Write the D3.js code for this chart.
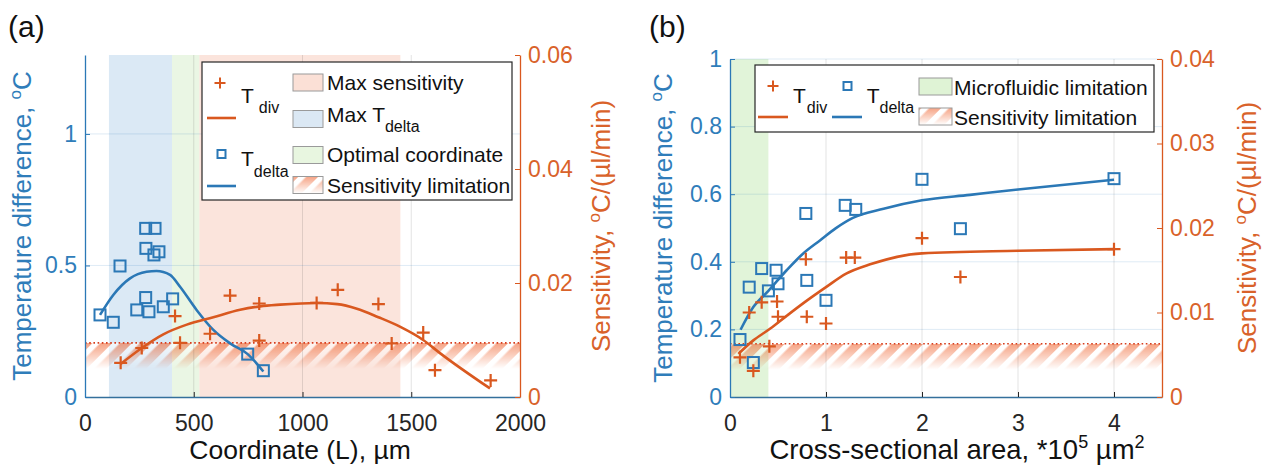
<!DOCTYPE html>
<html><head><meta charset="utf-8">
<script src="https://cdn.jsdelivr.net/npm/d3@7"></script>
<style>
body{margin:0;background:#fff;}
svg{display:block;font-family:"Liberation Sans",Arial,Helvetica,sans-serif;}
</style>
</head><body>
<svg id="chart" width="1273" height="470"></svg>
<script>
// ===================== DATA : panel (a) =====================
const aXTicks = [0, 500, 1000, 1500, 2000];
const aLeftTicks = [0, 0.5, 1];
const aRightTicks = [0, 0.02, 0.04, 0.06];
const aXDomain = [0, 2000];
const aLeftDomain = [0, 1.3];
const aRightDomain = [0, 0.06];
// T_delta measurements (left axis, °C)
const aDeltaX = [69, 130, 161, 238, 279, 294, 279, 322, 280, 317, 340, 360, 403, 748, 820];
const aDeltaY = [0.312, 0.284, 0.498, 0.331, 0.378, 0.324, 0.641, 0.641, 0.565, 0.54, 0.552, 0.343, 0.373, 0.163, 0.10];
// T_delta fitted curve
const aDeltaFitX = [69, 130, 207, 283, 329, 391, 437, 513, 590, 667, 748, 820];
const aDeltaFitY = [0.312, 0.388, 0.451, 0.476, 0.479, 0.464, 0.419, 0.331, 0.255, 0.204, 0.163, 0.097];
// T_div measurements (right axis, sensitivity)
const aDivX = [164, 261, 414, 437, 575, 667, 801, 801, 1065, 1162, 1349, 1410, 1555, 1609, 1865];
const aDivY = [0.0060, 0.0086, 0.0142, 0.0095, 0.0111, 0.0178, 0.0164, 0.0099, 0.0165, 0.0188, 0.0163, 0.0094, 0.0113, 0.0047, 0.0029];
// T_div fitted curve
const aDivFitX = [164, 261, 360, 468, 590, 713, 805, 897, 1065, 1160, 1250, 1349, 1450, 1555, 1632, 1862];
const aDivFitY = [0.0058, 0.0086, 0.0110, 0.0127, 0.0140, 0.0153, 0.0159, 0.0162, 0.0165, 0.0163, 0.0155, 0.0140, 0.0123, 0.0100, 0.0077, 0.0015];
// shaded regions
const aRegionNames = ["Max sensitivity", "Max T_delta", "Optimal coordinate"];
const aRegionStart = [525, 110, 400];
const aRegionEnd = [1450, 400, 525];
const aSensLimit = 0.0095;

// ===================== DATA : panel (b) =====================
const bXTicks = [0, 1, 2, 3, 4];
const bLeftTicks = [0, 0.2, 0.4, 0.6, 0.8, 1];
const bRightTicks = [0, 0.01, 0.02, 0.03, 0.04];
const bXDomain = [0, 4.5];
const bLeftDomain = [0, 1];
const bRightDomain = [0, 0.04];
const bDeltaX = [0.104, 0.2, 0.243, 0.33, 0.4, 0.48, 0.5, 0.8, 1.0, 0.79, 1.2, 1.31, 2.0, 2.4, 4.0];
const bDeltaY = [0.17, 0.325, 0.102, 0.38, 0.314, 0.375, 0.335, 0.345, 0.286, 0.543, 0.567, 0.555, 0.644, 0.498, 0.646];
const bDeltaFitX = [0.11, 0.243, 0.4, 0.59, 0.76, 0.94, 1.1, 1.28, 1.6, 2.0, 2.5, 3.0, 4.0];
const bDeltaFitY = [0.199, 0.266, 0.314, 0.375, 0.424, 0.464, 0.499, 0.530, 0.557, 0.582, 0.598, 0.614, 0.643];
const bDivX = [0.104, 0.2, 0.243, 0.33, 0.41, 0.49, 0.5, 0.79, 0.8, 1.0, 1.21, 1.3, 2.0, 2.4, 4.0];
const bDivY = [0.0047, 0.0100, 0.0031, 0.0112, 0.0060, 0.0113, 0.0095, 0.0163, 0.0095, 0.0087, 0.0165, 0.0165, 0.0188, 0.0142, 0.0175];
const bDivFitX = [0.087, 0.243, 0.42, 0.59, 0.8, 1.0, 1.21, 1.46, 2.0, 3.0, 4.0];
const bDivFitY = [0.0051, 0.0067, 0.0081, 0.0096, 0.0114, 0.0130, 0.0146, 0.0157, 0.0170, 0.0173, 0.0175];
const bRegionNames = ["Microfluidic limitation"];
const bRegionStart = [0];
const bRegionEnd = [0.4];
const bSensLimit = 0.0063;

// ===================== STYLE =====================
const BLUE = "#2b78b6", BLUE_TXT = "#2f7dba";
const ORANGE = "#d9581f", ORANGE_TXT = "#d9622a";
const BLACK = "#262626";
const TICK_FS = 23, LABEL_FS = 26, LEG_FS = 21;

const svg = d3.select("#chart");
svg.append("rect").attr("width", 1273).attr("height", 470).attr("fill", "#fff");
const defs = svg.append("defs");

// hatch pattern: orange with white "/" stripes
const pat = defs.append("pattern").attr("id", "hatch").attr("patternUnits", "userSpaceOnUse")
  .attr("width", 14).attr("height", 14).attr("patternTransform", "rotate(45)");
pat.append("rect").attr("width", 14).attr("height", 14).attr("fill", "#f06a38");
pat.append("rect").attr("width", 5.5).attr("height", 14).attr("fill", "#fff");
const grad = defs.append("linearGradient").attr("id", "fadeGrad").attr("x1", 0).attr("y1", 0).attr("x2", 0).attr("y2", 1);
grad.append("stop").attr("offset", 0).attr("stop-color", "#fff").attr("stop-opacity", 0.62);
grad.append("stop").attr("offset", 1).attr("stop-color", "#fff").attr("stop-opacity", 0);
let maskCount = 0;
function hatchRect(g, x, y, w, h) {
  const id = "fade" + (maskCount++);
  const m = defs.append("mask").attr("id", id).attr("maskUnits", "userSpaceOnUse")
    .attr("x", x).attr("y", y).attr("width", w).attr("height", h);
  m.append("rect").attr("x", x).attr("y", y).attr("width", w).attr("height", h).attr("fill", "url(#fadeGrad)");
  return g.append("rect").attr("x", x).attr("y", y).attr("width", w).attr("height", h)
    .attr("fill", "url(#hatch)").attr("mask", `url(#${id})`);
}

function plusPath(s) { return `M${-s},0H${s}M0,${-s}V${s}`; }

function addLabelWithSub(g, x, y, main, sub, color, fs, subFs, subDx, subDy) {
  const t = g.append("text").attr("x", x).attr("y", y).attr("fill", color).attr("font-size", fs);
  t.append("tspan").text(main);
  t.append("tspan").attr("dx", subDx).attr("dy", subDy).attr("font-size", subFs).text(sub);
  return t;
}

function drawPanel(p) {
  const g = svg.append("g");
  const x = d3.scaleLinear().domain(p.xDomain).range([p.left, p.right]);
  const yL = d3.scaleLinear().domain(p.leftDomain).range([p.bottom, p.top]);
  const yR = d3.scaleLinear().domain(p.rightDomain).range([p.bottom, p.top]);

  // shaded regions
  p.regionStart.forEach((s, i) => {
    g.append("rect").attr("x", x(s)).attr("y", p.top)
      .attr("width", x(p.regionEnd[i]) - x(s)).attr("height", p.bottom - p.top)
      .attr("fill", p.regionColors[i]);
  });
  // sensitivity limitation hatch
  const ly = yR(p.sensLimit);
  hatchRect(g, p.left, ly, p.right - p.left, 26);

  // grid
  g.append("g").selectAll("line").data(p.xTicks.filter(d => x(d) > p.left + 1 && x(d) < p.right - 1)).join("line")
    .attr("x1", d => x(d)).attr("x2", d => x(d)).attr("y1", p.top).attr("y2", p.bottom)
    .attr("stroke", "rgba(40,40,40,0.13)").attr("stroke-width", 1);
  g.append("g").selectAll("line").data(p.leftTicks.filter(d => d > 0)).join("line")
    .attr("x1", p.left).attr("x2", p.right).attr("y1", d => yL(d)).attr("y2", d => yL(d))
    .attr("stroke", "rgba(0,100,180,0.13)").attr("stroke-width", 1);

  // dotted sensitivity line
  g.append("line").attr("x1", p.left).attr("x2", p.right).attr("y1", ly).attr("y2", ly)
    .attr("stroke", "#d63c1c").attr("stroke-width", 1.7).attr("stroke-dasharray", "1.6,2.6");

  // fitted lines
  const lineL = d3.line().x(d => x(d[0])).y(d => yL(d[1])).curve(d3.curveMonotoneX);
  const lineR = d3.line().x(d => x(d[0])).y(d => yR(d[1])).curve(d3.curveMonotoneX);
  g.append("path").datum(d3.zip(p.deltaFitX, p.deltaFitY)).attr("d", lineL)
    .attr("fill", "none").attr("stroke", BLUE).attr("stroke-width", 2.6).attr("stroke-linejoin", "round");
  g.append("path").datum(d3.zip(p.divFitX, p.divFitY)).attr("d", lineR)
    .attr("fill", "none").attr("stroke", ORANGE).attr("stroke-width", 2.6).attr("stroke-linejoin", "round");

  // markers
  g.append("g").selectAll("rect").data(d3.zip(p.deltaX, p.deltaY)).join("rect")
    .attr("x", d => x(d[0]) - 5.5).attr("y", d => yL(d[1]) - 5.5).attr("width", 11).attr("height", 11)
    .attr("fill", "none").attr("stroke", BLUE).attr("stroke-width", 2);
  g.append("g").selectAll("path").data(d3.zip(p.divX, p.divY)).join("path")
    .attr("transform", d => `translate(${x(d[0])},${yR(d[1])})`).attr("d", plusPath(6.5))
    .attr("fill", "none").attr("stroke", ORANGE).attr("stroke-width", 2.2);

  // axes
  const fmt = d3.format("~g");
  const ax = g.append("g").attr("transform", `translate(0,${p.bottom})`)
    .call(d3.axisBottom(x).tickValues(p.xTicks).tickFormat(fmt).tickSize(-5).tickSizeOuter(0).tickPadding(18));
  ax.select(".domain").attr("stroke", "#34709c").attr("stroke-width", 1.3);
  ax.selectAll(".tick line").attr("stroke", BLACK);
  ax.selectAll("text").attr("fill", BLACK).attr("font-size", TICK_FS).attr("font-family", null);

  const al = g.append("g").attr("transform", `translate(${p.left},0)`)
    .call(d3.axisLeft(yL).tickValues(p.leftTicks).tickFormat(fmt).tickSize(-5).tickSizeOuter(0).tickPadding(8));
  al.select(".domain").attr("stroke", BLUE).attr("stroke-width", 1.3);
  al.selectAll(".tick line").attr("stroke", BLUE);
  al.selectAll("text").attr("fill", BLUE_TXT).attr("font-size", TICK_FS).attr("font-family", null);

  const ar = g.append("g").attr("transform", `translate(${p.right},0)`)
    .call(d3.axisRight(yR).tickValues(p.rightTicks).tickFormat(fmt).tickSize(-5).tickSizeOuter(0).tickPadding(8));
  ar.select(".domain").attr("stroke", ORANGE).attr("stroke-width", 1.3);
  ar.selectAll(".tick line").attr("stroke", ORANGE);
  ar.selectAll("text").attr("fill", ORANGE_TXT).attr("font-size", TICK_FS).attr("font-family", null);

  // axis titles
  const yl = g.append("text").attr("transform", `translate(${p.leftLabelX},${(p.top + p.bottom) / 2}) rotate(-90)`)
    .attr("text-anchor", "middle").attr("fill", BLUE_TXT).attr("font-size", LABEL_FS);
  yl.append("tspan").text("Temperature difference, ");
  yl.append("tspan").attr("dy", -10).attr("font-size", 17).text("o");
  yl.append("tspan").attr("dy", 10).text("C");

  const yr = g.append("text").attr("transform", `translate(${p.rightLabelX},${(p.top + p.bottom) / 2}) rotate(-90)`)
    .attr("text-anchor", "middle").attr("fill", ORANGE_TXT).attr("font-size", LABEL_FS);
  yr.append("tspan").text("Sensitivity, ");
  yr.append("tspan").attr("dy", -10).attr("font-size", 17).text("o");
  yr.append("tspan").attr("dy", 10).text("C/(µl/min)");

  svg.append("text").attr("x", p.letterX).attr("y", 37).attr("font-size", 30).attr("fill", "#111").text(p.letter);
  return { g, x, yL, yR };
}

// ---------- panel (a) ----------
const A = drawPanel({
  left: 85, right: 520, top: 55, bottom: 397,
  xDomain: aXDomain, leftDomain: aLeftDomain, rightDomain: aRightDomain,
  xTicks: aXTicks, leftTicks: aLeftTicks, rightTicks: aRightTicks,
  deltaX: aDeltaX, deltaY: aDeltaY, deltaFitX: aDeltaFitX, deltaFitY: aDeltaFitY,
  divX: aDivX, divY: aDivY, divFitX: aDivFitX, divFitY: aDivFitY,
  regionStart: aRegionStart, regionEnd: aRegionEnd,
  regionColors: ["#fbe4dc", "#dbe9f5", "#eaf6e4"],
  sensLimit: aSensLimit, leftLabelX: 31, rightLabelX: 610, letter: "(a)", letterX: 8
});
A.g.append("text").attr("x", 300).attr("y", 459).attr("text-anchor", "middle")
  .attr("font-size", 26.5).attr("fill", "#111").text("Coordinate (L), µm");

// legend (a)
{
  const L = A.g.append("g");
  L.append("rect").attr("x", 202).attr("y", 62).attr("width", 310).attr("height", 138)
    .attr("fill", "#fff").attr("stroke", BLACK).attr("stroke-width", 1.2);
  L.append("path").attr("transform", "translate(220,83)").attr("d", plusPath(5.5))
    .attr("stroke", ORANGE).attr("stroke-width", 2).attr("fill", "none");
  L.append("line").attr("x1", 207).attr("x2", 236).attr("y1", 118).attr("y2", 118).attr("stroke", ORANGE).attr("stroke-width", 2.6);
  addLabelWithSub(L, 241, 103, "T", "div", "#111", LEG_FS, 16, 5, 10);
  L.append("rect").attr("x", 217.5).attr("y", 150).attr("width", 8).attr("height", 8)
    .attr("fill", "none").attr("stroke", BLUE).attr("stroke-width", 2);
  L.append("line").attr("x1", 207).attr("x2", 236).attr("y1", 186).attr("y2", 186).attr("stroke", BLUE).attr("stroke-width", 2.6);
  addLabelWithSub(L, 241, 166, "T", "delta", "#111", LEG_FS, 16, 0, 11);
  const sw = [82.5, 119, 155, 185];
  const swCol = ["#fbe0d6", "#dbe8f4", "#e8f6e0"];
  sw.forEach((cy, i) => {
    if (i < 3) {
      L.append("rect").attr("x", 293).attr("y", cy - 8.5).attr("width", 30).attr("height", 17)
        .attr("fill", swCol[i]).attr("stroke", "#9a9a9a").attr("stroke-width", 1);
    } else {
      hatchRect(L, 293, cy - 8.5, 30, 17);
      L.append("rect").attr("x", 293).attr("y", cy - 8.5).attr("width", 30).attr("height", 17)
        .attr("fill", "none").attr("stroke", "#9a9a9a").attr("stroke-width", 1);
    }
  });
  L.append("text").attr("x", 327).attr("y", 89.5).attr("font-size", LEG_FS).attr("fill", "#111").text(aRegionNames[0]);
  addLabelWithSub(L, 327, 122, "Max T", "delta", "#111", LEG_FS, 16, 0, 10);
  L.append("text").attr("x", 327).attr("y", 162).attr("font-size", LEG_FS).attr("fill", "#111").text(aRegionNames[2]);
  L.append("text").attr("x", 327).attr("y", 193).attr("font-size", LEG_FS).attr("fill", "#111").text("Sensitivity limitation");
}

// ---------- panel (b) ----------
const B = drawPanel({
  left: 730, right: 1162, top: 59, bottom: 397,
  xDomain: bXDomain, leftDomain: bLeftDomain, rightDomain: bRightDomain,
  xTicks: bXTicks, leftTicks: bLeftTicks, rightTicks: bRightTicks,
  deltaX: bDeltaX, deltaY: bDeltaY, deltaFitX: bDeltaFitX, deltaFitY: bDeltaFitY,
  divX: bDivX, divY: bDivY, divFitX: bDivFitX, divFitY: bDivFitY,
  regionStart: bRegionStart, regionEnd: bRegionEnd,
  regionColors: ["#e1f4d9"],
  sensLimit: bSensLimit, leftLabelX: 672, rightLabelX: 1256, letter: "(b)", letterX: 649
});
{
  const t = B.g.append("text").attr("x", 957).attr("y", 459).attr("text-anchor", "middle")
    .attr("font-size", 27.5).attr("fill", "#111");
  t.append("tspan").text("Cross-sectional area, *10");
  t.append("tspan").attr("dy", -11).attr("font-size", 18).text("5");
  t.append("tspan").attr("dy", 11).text(" µm");
  t.append("tspan").attr("dy", -11).attr("font-size", 18).text("2");
}
// legend (b)
{
  const L = B.g.append("g");
  L.append("rect").attr("x", 755).attr("y", 65).attr("width", 399).attr("height", 67)
    .attr("fill", "#fff").attr("stroke", BLACK).attr("stroke-width", 1.2);
  L.append("path").attr("transform", "translate(773,86)").attr("d", plusPath(5.5))
    .attr("stroke", ORANGE).attr("stroke-width", 2).attr("fill", "none");
  L.append("line").attr("x1", 758).attr("x2", 788).attr("y1", 117).attr("y2", 117).attr("stroke", ORANGE).attr("stroke-width", 2.6);
  addLabelWithSub(L, 793, 103, "T", "div", "#111", LEG_FS, 16, 1, 10);
  L.append("rect").attr("x", 843.5).attr("y", 82).attr("width", 8).attr("height", 8)
    .attr("fill", "none").attr("stroke", BLUE).attr("stroke-width", 2);
  L.append("line").attr("x1", 832).attr("x2", 862).attr("y1", 117).attr("y2", 117).attr("stroke", BLUE).attr("stroke-width", 2.6);
  addLabelWithSub(L, 866.7, 103, "T", "delta", "#111", LEG_FS, 16, 0, 10);
  L.append("rect").attr("x", 919).attr("y", 78).attr("width", 33).attr("height", 17)
    .attr("fill", "#dff3d5").attr("stroke", "#9a9a9a").attr("stroke-width", 1);
  hatchRect(L, 919, 108, 33, 17);
  L.append("rect").attr("x", 919).attr("y", 108).attr("width", 33).attr("height", 17)
    .attr("fill", "none").attr("stroke", "#9a9a9a").attr("stroke-width", 1);
  L.append("text").attr("x", 954).attr("y", 95).attr("font-size", LEG_FS).attr("fill", "#111").text(bRegionNames[0]);
  L.append("text").attr("x", 954).attr("y", 125).attr("font-size", LEG_FS).attr("fill", "#111").text("Sensitivity limitation");
}
</script>
</body></html>
